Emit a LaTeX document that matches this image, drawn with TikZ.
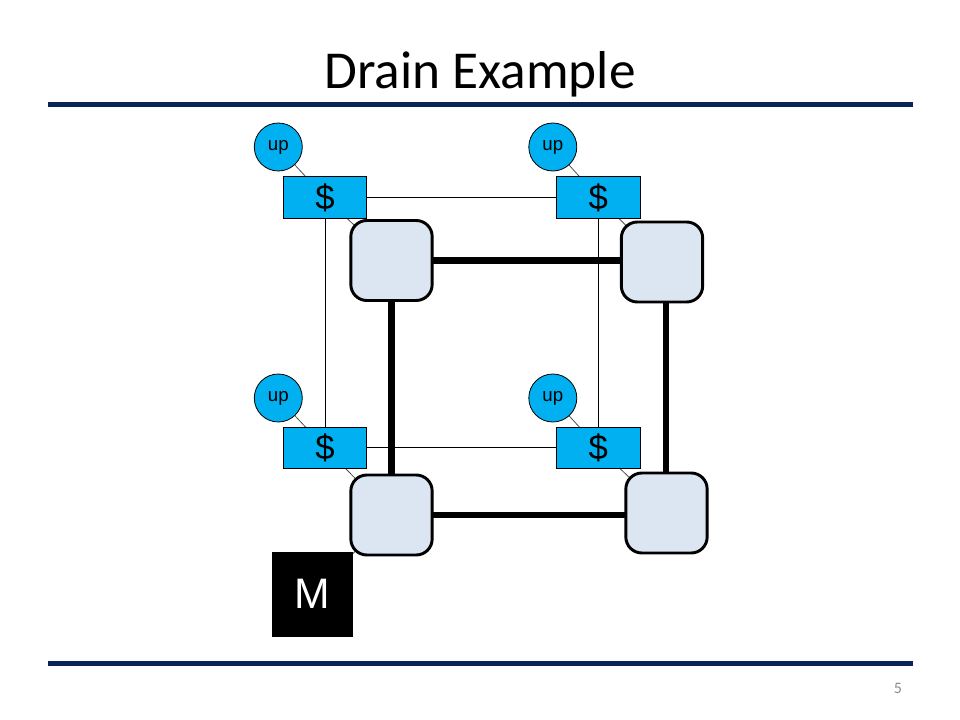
\documentclass[tikz,border=0pt]{standalone}
\usepackage{fontspec}
\setmainfont{Carlito}
\newfontfamily\arialf{Liberation Sans}
\usetikzlibrary{backgrounds,calc}
\definecolor{navy}{HTML}{0A2358}
\definecolor{cyanb}{HTML}{00B0F0}
\definecolor{paleb}{HTML}{DCE6F2}
\definecolor{pgnum}{HTML}{8C8C8C}
\definecolor{diagc}{HTML}{505050}
\tikzset{
  rulebar/.style={draw=navy, line width=3.4pt},
  upnode/.style={circle, draw=black, line width=0.6pt, fill=cyanb, minimum size=36pt, inner sep=0pt, font=\arialf\fontsize{14}{14}\selectfont},
  cashbox/.style={rectangle, draw=black, line width=0.6pt, fill=cyanb, minimum width=62.5pt, minimum height=31pt, inner sep=0pt, font=\arialf\fontsize{26}{26}\selectfont},
  router/.style={rectangle, rounded corners=12pt, draw=black, line width=2.2pt, fill=paleb, minimum width=61pt, minimum height=60pt, inner sep=0pt},
  membox/.style={rectangle, fill=black, minimum width=60.75pt, minimum height=63.75pt, inner sep=0pt, text=white, font=\arialf\fontsize{32}{32}\selectfont},
  thinlink/.style={draw=black, line width=0.75pt},
  thicklink/.style={draw=black, line width=5.2pt},
  diaglink/.style={draw=diagc, line width=0.6pt},
}
\begin{document}
\begin{tikzpicture}[x=0.75pt,y=-0.75pt]
\useasboundingbox (0,0) rectangle (960,720);
\node[font=\fontsize{40}{40}\selectfont, anchor=base] (title) at (480,89) {Drain Example};
\coordinate (r1a) at (48,104.5);
\coordinate (r1b) at (913,104.5);
\coordinate (r2a) at (48,663.5);
\coordinate (r2b) at (913,663.5);
\draw[rulebar] (r1a) -- (r1b);
\draw[rulebar] (r2a) -- (r2b);
\node[font=\fontsize{12}{12}\selectfont, text=pgnum] (pg) at (898,688) {5};

% up circles
\node[upnode] (u1) at (278.3,147) {up};
\node[upnode] (u2) at (552.8,147) {up};
\node[upnode] (u3) at (278.3,398) {up};
\node[upnode] (u4) at (552.8,398) {up};
% cache boxes
\node[cashbox] (c1) at (325,197.5) {\$};
\node[cashbox] (c2) at (598.3,197.5) {\$};
\node[cashbox] (c3) at (325,447.8) {\$};
\node[cashbox] (c4) at (598.3,447.8) {\$};
% routers
\node[router] (n1) at (391.5,260.5) {};
\node[router] (n2) at (662,262) {};
\node[router] (n3) at (391.5,515) {};
\node[router] (n4) at (666.5,513) {};
% memory
\node[membox] (m) at (312.2,594.2) {M};

\begin{pgfonlayer}{background}
  \draw[diaglink] (u1.center) -- (c1.center);
  \draw[diaglink] (u2.center) -- (c2.center);
  \draw[diaglink] (u3.center) -- (c3.center);
  \draw[diaglink] (u4.center) -- (c4.center);
  \draw[diaglink] (c1.center) -- (n1.center);
  \draw[diaglink] (c2.center) -- (n2.center);
  \draw[diaglink] (c3.center) -- (n3.center);
  \draw[diaglink] (c4.center) -- (n4.center);
  \draw[diaglink] (m.center) -- (n3.center);
  \draw[thicklink] (n1.center) -- (n1.center -| n2.center);
  \draw[thicklink] (n1.center) -- (n1.center |- n3.center);
  \draw[thicklink] (n3.center) -- (n3.center -| n4.center);
  \draw[thicklink] (n4.center -| 666,0) -- (n2.center -| 666,0);
  \draw[thinlink] (c1.center) -- (c2.center);
  \draw[thinlink] (c3.center) -- (c4.center);
  \draw[thinlink] (c1.center) -- (c3.center);
  \draw[thinlink] (c2.center) -- (c4.center);
\end{pgfonlayer}
\end{tikzpicture}
\end{document}
